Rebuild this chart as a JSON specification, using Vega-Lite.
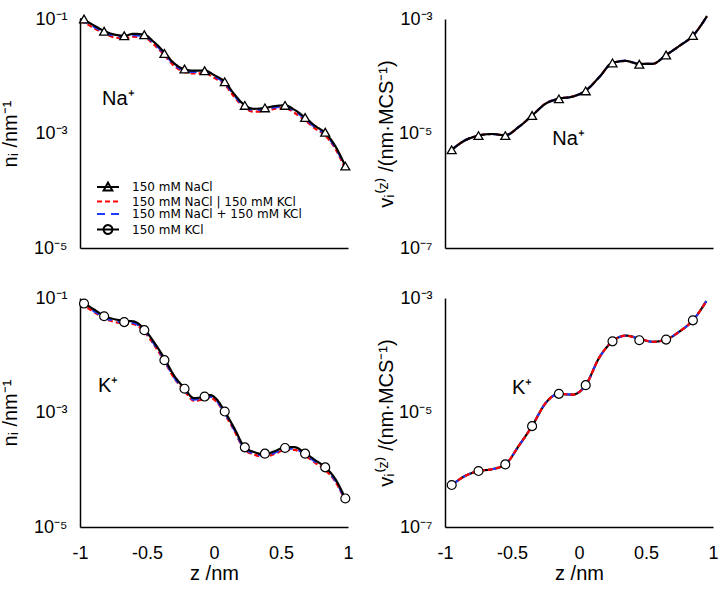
{
  "$schema": "https://vega.github.io/schema/vega-lite/v6.json",
  "padding": {"left": 0, "top": 10, "right": 5, "bottom": 5},
  "background": "white",
  "columns": 2,
  "spacing": {"row": 50, "column": 97},
  "bounds": "flush",
  "resolve": {"scale": {"x": "independent", "y": "independent", "color": "shared", "strokeDash": "shared"}},
  "config": {
    "view": {"stroke": null},
    "axis": {"grid": false, "ticks": false, "domainColor": "black", "domainWidth": 1.5, "labelFont": "Liberation Sans", "labelFontSize": 18, "labelColor": "black", "titleFont": "Liberation Sans", "titleFontSize": 20, "titleFontWeight": "normal", "titleColor": "black", "labelOverlap": false, "labelFlush": false, "labelBound": false}
  },
  "datasets": {
    "xt": [{"z":-1,"m":1},{"z":-0.75,"m":0},{"z":-0.5,"m":1},{"z":-0.25,"m":0},{"z":0,"m":1},{"z":0.25,"m":0},{"z":0.5,"m":1},{"z":0.75,"m":0},{"z":1,"m":1}],
    "ytn": [{"v":0.00001,"m":1},{"v":0.00002,"m":0},{"v":0.00003,"m":0},{"v":0.00004,"m":0},{"v":0.00005,"m":0},{"v":0.00006,"m":0},{"v":0.00007,"m":0},{"v":0.00008,"m":0},{"v":0.00009,"m":0},{"v":0.0001,"m":1},{"v":0.0002,"m":0},{"v":0.0003,"m":0},{"v":0.0004,"m":0},{"v":0.0005,"m":0},{"v":0.0006,"m":0},{"v":0.0007,"m":0},{"v":0.0008,"m":0},{"v":0.0009,"m":0},{"v":0.001,"m":1},{"v":0.002,"m":0},{"v":0.003,"m":0},{"v":0.004,"m":0},{"v":0.005,"m":0},{"v":0.006,"m":0},{"v":0.007,"m":0},{"v":0.008,"m":0},{"v":0.009,"m":0},{"v":0.01,"m":1},{"v":0.02,"m":0},{"v":0.03,"m":0},{"v":0.04,"m":0},{"v":0.05,"m":0},{"v":0.06,"m":0},{"v":0.07,"m":0},{"v":0.08,"m":0},{"v":0.09,"m":0},{"v":0.1,"m":1}],
    "ytv": [{"v":1e-7,"m":1},{"v":2e-7,"m":0},{"v":3e-7,"m":0},{"v":4e-7,"m":0},{"v":5e-7,"m":0},{"v":6e-7,"m":0},{"v":7e-7,"m":0},{"v":8e-7,"m":0},{"v":9e-7,"m":0},{"v":1e-6,"m":1},{"v":2e-6,"m":0},{"v":3e-6,"m":0},{"v":4e-6,"m":0},{"v":5e-6,"m":0},{"v":6e-6,"m":0},{"v":7e-6,"m":0},{"v":8e-6,"m":0},{"v":9e-6,"m":0},{"v":1e-5,"m":1},{"v":2e-5,"m":0},{"v":3e-5,"m":0},{"v":4e-5,"m":0},{"v":5e-5,"m":0},{"v":6e-5,"m":0},{"v":7e-5,"m":0},{"v":8e-5,"m":0},{"v":9e-5,"m":0},{"v":1e-4,"m":1},{"v":2e-4,"m":0},{"v":3e-4,"m":0},{"v":4e-4,"m":0},{"v":5e-4,"m":0},{"v":6e-4,"m":0},{"v":7e-4,"m":0},{"v":8e-4,"m":0},{"v":9e-4,"m":0},{"v":1e-3,"m":1}],
    "lines": [
      {"p":"Na_n","s":"150 mM NaCl","z":-1,"v":0.1},{"p":"Na_n","s":"150 mM NaCl","z":-0.97,"v":0.095},{"p":"Na_n","s":"150 mM NaCl","z":-0.9,"v":0.078},{"p":"Na_n","s":"150 mM NaCl","z":-0.82,"v":0.062},{"p":"Na_n","s":"150 mM NaCl","z":-0.75,"v":0.054},{"p":"Na_n","s":"150 mM NaCl","z":-0.67,"v":0.051},{"p":"Na_n","s":"150 mM NaCl","z":-0.6,"v":0.055},{"p":"Na_n","s":"150 mM NaCl","z":-0.52,"v":0.053},{"p":"Na_n","s":"150 mM NaCl","z":-0.45,"v":0.04},{"p":"Na_n","s":"150 mM NaCl","z":-0.37,"v":0.026},{"p":"Na_n","s":"150 mM NaCl","z":-0.3,"v":0.017},{"p":"Na_n","s":"150 mM NaCl","z":-0.22,"v":0.0132},{"p":"Na_n","s":"150 mM NaCl","z":-0.15,"v":0.0125},{"p":"Na_n","s":"150 mM NaCl","z":-0.07,"v":0.0126},{"p":"Na_n","s":"150 mM NaCl","z":0,"v":0.0105},{"p":"Na_n","s":"150 mM NaCl","z":0.08,"v":0.008},{"p":"Na_n","s":"150 mM NaCl","z":0.15,"v":0.0049},{"p":"Na_n","s":"150 mM NaCl","z":0.23,"v":0.0031},{"p":"Na_n","s":"150 mM NaCl","z":0.3,"v":0.0027},{"p":"Na_n","s":"150 mM NaCl","z":0.38,"v":0.0028},{"p":"Na_n","s":"150 mM NaCl","z":0.45,"v":0.003},{"p":"Na_n","s":"150 mM NaCl","z":0.53,"v":0.0031},{"p":"Na_n","s":"150 mM NaCl","z":0.6,"v":0.0026},{"p":"Na_n","s":"150 mM NaCl","z":0.68,"v":0.0019},{"p":"Na_n","s":"150 mM NaCl","z":0.75,"v":0.00138},{"p":"Na_n","s":"150 mM NaCl","z":0.83,"v":0.00102},{"p":"Na_n","s":"150 mM NaCl","z":0.9,"v":0.00063},{"p":"Na_n","s":"150 mM NaCl","z":0.98,"v":0.00027},
      {"p":"Na_n","s":"150 mM NaCl | 150 mM KCl","z":-1,"v":0.09},{"p":"Na_n","s":"150 mM NaCl | 150 mM KCl","z":-0.97,"v":0.086},{"p":"Na_n","s":"150 mM NaCl | 150 mM KCl","z":-0.9,"v":0.07},{"p":"Na_n","s":"150 mM NaCl | 150 mM KCl","z":-0.82,"v":0.056},{"p":"Na_n","s":"150 mM NaCl | 150 mM KCl","z":-0.75,"v":0.048},{"p":"Na_n","s":"150 mM NaCl | 150 mM KCl","z":-0.67,"v":0.046},{"p":"Na_n","s":"150 mM NaCl | 150 mM KCl","z":-0.6,"v":0.049},{"p":"Na_n","s":"150 mM NaCl | 150 mM KCl","z":-0.52,"v":0.048},{"p":"Na_n","s":"150 mM NaCl | 150 mM KCl","z":-0.45,"v":0.036},{"p":"Na_n","s":"150 mM NaCl | 150 mM KCl","z":-0.37,"v":0.0234},{"p":"Na_n","s":"150 mM NaCl | 150 mM KCl","z":-0.3,"v":0.0153},{"p":"Na_n","s":"150 mM NaCl | 150 mM KCl","z":-0.22,"v":0.0119},{"p":"Na_n","s":"150 mM NaCl | 150 mM KCl","z":-0.15,"v":0.0112},{"p":"Na_n","s":"150 mM NaCl | 150 mM KCl","z":-0.07,"v":0.0113},{"p":"Na_n","s":"150 mM NaCl | 150 mM KCl","z":0,"v":0.0094},{"p":"Na_n","s":"150 mM NaCl | 150 mM KCl","z":0.08,"v":0.0072},{"p":"Na_n","s":"150 mM NaCl | 150 mM KCl","z":0.15,"v":0.0044},{"p":"Na_n","s":"150 mM NaCl | 150 mM KCl","z":0.23,"v":0.0028},{"p":"Na_n","s":"150 mM NaCl | 150 mM KCl","z":0.3,"v":0.0024},{"p":"Na_n","s":"150 mM NaCl | 150 mM KCl","z":0.38,"v":0.0025},{"p":"Na_n","s":"150 mM NaCl | 150 mM KCl","z":0.45,"v":0.0027},{"p":"Na_n","s":"150 mM NaCl | 150 mM KCl","z":0.53,"v":0.0028},{"p":"Na_n","s":"150 mM NaCl | 150 mM KCl","z":0.6,"v":0.0023},{"p":"Na_n","s":"150 mM NaCl | 150 mM KCl","z":0.68,"v":0.0017},{"p":"Na_n","s":"150 mM NaCl | 150 mM KCl","z":0.75,"v":0.00124},{"p":"Na_n","s":"150 mM NaCl | 150 mM KCl","z":0.83,"v":0.00092},{"p":"Na_n","s":"150 mM NaCl | 150 mM KCl","z":0.9,"v":0.00057},{"p":"Na_n","s":"150 mM NaCl | 150 mM KCl","z":0.98,"v":0.00024},
      {"p":"Na_n","s":"150 mM NaCl + 150 mM KCl","z":-1,"v":0.095},{"p":"Na_n","s":"150 mM NaCl + 150 mM KCl","z":-0.97,"v":0.09},{"p":"Na_n","s":"150 mM NaCl + 150 mM KCl","z":-0.9,"v":0.074},{"p":"Na_n","s":"150 mM NaCl + 150 mM KCl","z":-0.82,"v":0.059},{"p":"Na_n","s":"150 mM NaCl + 150 mM KCl","z":-0.75,"v":0.051},{"p":"Na_n","s":"150 mM NaCl + 150 mM KCl","z":-0.67,"v":0.0485},{"p":"Na_n","s":"150 mM NaCl + 150 mM KCl","z":-0.6,"v":0.052},{"p":"Na_n","s":"150 mM NaCl + 150 mM KCl","z":-0.52,"v":0.0505},{"p":"Na_n","s":"150 mM NaCl + 150 mM KCl","z":-0.45,"v":0.038},{"p":"Na_n","s":"150 mM NaCl + 150 mM KCl","z":-0.37,"v":0.0247},{"p":"Na_n","s":"150 mM NaCl + 150 mM KCl","z":-0.3,"v":0.0161},{"p":"Na_n","s":"150 mM NaCl + 150 mM KCl","z":-0.22,"v":0.0125},{"p":"Na_n","s":"150 mM NaCl + 150 mM KCl","z":-0.15,"v":0.0119},{"p":"Na_n","s":"150 mM NaCl + 150 mM KCl","z":-0.07,"v":0.012},{"p":"Na_n","s":"150 mM NaCl + 150 mM KCl","z":0,"v":0.01},{"p":"Na_n","s":"150 mM NaCl + 150 mM KCl","z":0.08,"v":0.0076},{"p":"Na_n","s":"150 mM NaCl + 150 mM KCl","z":0.15,"v":0.0047},{"p":"Na_n","s":"150 mM NaCl + 150 mM KCl","z":0.23,"v":0.0029},{"p":"Na_n","s":"150 mM NaCl + 150 mM KCl","z":0.3,"v":0.00256},{"p":"Na_n","s":"150 mM NaCl + 150 mM KCl","z":0.38,"v":0.00266},{"p":"Na_n","s":"150 mM NaCl + 150 mM KCl","z":0.45,"v":0.00285},{"p":"Na_n","s":"150 mM NaCl + 150 mM KCl","z":0.53,"v":0.00294},{"p":"Na_n","s":"150 mM NaCl + 150 mM KCl","z":0.6,"v":0.00247},{"p":"Na_n","s":"150 mM NaCl + 150 mM KCl","z":0.68,"v":0.0018},{"p":"Na_n","s":"150 mM NaCl + 150 mM KCl","z":0.75,"v":0.00131},{"p":"Na_n","s":"150 mM NaCl + 150 mM KCl","z":0.83,"v":0.00097},{"p":"Na_n","s":"150 mM NaCl + 150 mM KCl","z":0.9,"v":0.0006},{"p":"Na_n","s":"150 mM NaCl + 150 mM KCl","z":0.98,"v":0.000256},

      {"p":"K_n","s":"150 mM KCl","z":-1,"v":0.085},{"p":"K_n","s":"150 mM KCl","z":-0.97,"v":0.08},{"p":"K_n","s":"150 mM KCl","z":-0.9,"v":0.064},{"p":"K_n","s":"150 mM KCl","z":-0.82,"v":0.049},{"p":"K_n","s":"150 mM KCl","z":-0.75,"v":0.043},{"p":"K_n","s":"150 mM KCl","z":-0.67,"v":0.04},{"p":"K_n","s":"150 mM KCl","z":-0.6,"v":0.039},{"p":"K_n","s":"150 mM KCl","z":-0.52,"v":0.0285},{"p":"K_n","s":"150 mM KCl","z":-0.45,"v":0.0172},{"p":"K_n","s":"150 mM KCl","z":-0.37,"v":0.0088},{"p":"K_n","s":"150 mM KCl","z":-0.3,"v":0.0045},{"p":"K_n","s":"150 mM KCl","z":-0.22,"v":0.00265},{"p":"K_n","s":"150 mM KCl","z":-0.15,"v":0.00178},{"p":"K_n","s":"150 mM KCl","z":-0.07,"v":0.0019},{"p":"K_n","s":"150 mM KCl","z":-0.03,"v":0.00202},{"p":"K_n","s":"150 mM KCl","z":0.02,"v":0.0017},{"p":"K_n","s":"150 mM KCl","z":0.08,"v":0.00104},{"p":"K_n","s":"150 mM KCl","z":0.15,"v":0.00054},{"p":"K_n","s":"150 mM KCl","z":0.23,"v":0.000246},{"p":"K_n","s":"150 mM KCl","z":0.3,"v":0.000204},{"p":"K_n","s":"150 mM KCl","z":0.38,"v":0.000185},{"p":"K_n","s":"150 mM KCl","z":0.45,"v":0.00021},{"p":"K_n","s":"150 mM KCl","z":0.53,"v":0.000245},{"p":"K_n","s":"150 mM KCl","z":0.6,"v":0.000248},{"p":"K_n","s":"150 mM KCl","z":0.68,"v":0.000195},{"p":"K_n","s":"150 mM KCl","z":0.75,"v":0.00015},{"p":"K_n","s":"150 mM KCl","z":0.83,"v":0.00011},{"p":"K_n","s":"150 mM KCl","z":0.9,"v":0.000072},{"p":"K_n","s":"150 mM KCl","z":0.98,"v":0.0000315},
      {"p":"K_n","s":"150 mM NaCl | 150 mM KCl","z":-1,"v":0.076},{"p":"K_n","s":"150 mM NaCl | 150 mM KCl","z":-0.97,"v":0.072},{"p":"K_n","s":"150 mM NaCl | 150 mM KCl","z":-0.9,"v":0.058},{"p":"K_n","s":"150 mM NaCl | 150 mM KCl","z":-0.82,"v":0.044},{"p":"K_n","s":"150 mM NaCl | 150 mM KCl","z":-0.75,"v":0.0385},{"p":"K_n","s":"150 mM NaCl | 150 mM KCl","z":-0.67,"v":0.036},{"p":"K_n","s":"150 mM NaCl | 150 mM KCl","z":-0.6,"v":0.035},{"p":"K_n","s":"150 mM NaCl | 150 mM KCl","z":-0.52,"v":0.0257},{"p":"K_n","s":"150 mM NaCl | 150 mM KCl","z":-0.45,"v":0.0155},{"p":"K_n","s":"150 mM NaCl | 150 mM KCl","z":-0.37,"v":0.0079},{"p":"K_n","s":"150 mM NaCl | 150 mM KCl","z":-0.3,"v":0.0041},{"p":"K_n","s":"150 mM NaCl | 150 mM KCl","z":-0.22,"v":0.00239},{"p":"K_n","s":"150 mM NaCl | 150 mM KCl","z":-0.15,"v":0.0016},{"p":"K_n","s":"150 mM NaCl | 150 mM KCl","z":-0.07,"v":0.00171},{"p":"K_n","s":"150 mM NaCl | 150 mM KCl","z":-0.03,"v":0.00182},{"p":"K_n","s":"150 mM NaCl | 150 mM KCl","z":0.02,"v":0.00153},{"p":"K_n","s":"150 mM NaCl | 150 mM KCl","z":0.08,"v":0.00094},{"p":"K_n","s":"150 mM NaCl | 150 mM KCl","z":0.15,"v":0.00049},{"p":"K_n","s":"150 mM NaCl | 150 mM KCl","z":0.23,"v":0.000221},{"p":"K_n","s":"150 mM NaCl | 150 mM KCl","z":0.3,"v":0.000184},{"p":"K_n","s":"150 mM NaCl | 150 mM KCl","z":0.38,"v":0.000167},{"p":"K_n","s":"150 mM NaCl | 150 mM KCl","z":0.45,"v":0.000189},{"p":"K_n","s":"150 mM NaCl | 150 mM KCl","z":0.53,"v":0.00022},{"p":"K_n","s":"150 mM NaCl | 150 mM KCl","z":0.6,"v":0.000223},{"p":"K_n","s":"150 mM NaCl | 150 mM KCl","z":0.68,"v":0.000176},{"p":"K_n","s":"150 mM NaCl | 150 mM KCl","z":0.75,"v":0.000135},{"p":"K_n","s":"150 mM NaCl | 150 mM KCl","z":0.83,"v":0.000099},{"p":"K_n","s":"150 mM NaCl | 150 mM KCl","z":0.9,"v":0.000065},{"p":"K_n","s":"150 mM NaCl | 150 mM KCl","z":0.98,"v":0.0000284},
      {"p":"K_n","s":"150 mM NaCl + 150 mM KCl","z":-1,"v":0.08},{"p":"K_n","s":"150 mM NaCl + 150 mM KCl","z":-0.97,"v":0.075},{"p":"K_n","s":"150 mM NaCl + 150 mM KCl","z":-0.9,"v":0.06},{"p":"K_n","s":"150 mM NaCl + 150 mM KCl","z":-0.82,"v":0.046},{"p":"K_n","s":"150 mM NaCl + 150 mM KCl","z":-0.75,"v":0.04},{"p":"K_n","s":"150 mM NaCl + 150 mM KCl","z":-0.67,"v":0.0376},{"p":"K_n","s":"150 mM NaCl + 150 mM KCl","z":-0.6,"v":0.0367},{"p":"K_n","s":"150 mM NaCl + 150 mM KCl","z":-0.52,"v":0.0268},{"p":"K_n","s":"150 mM NaCl + 150 mM KCl","z":-0.45,"v":0.0162},{"p":"K_n","s":"150 mM NaCl + 150 mM KCl","z":-0.37,"v":0.0083},{"p":"K_n","s":"150 mM NaCl + 150 mM KCl","z":-0.3,"v":0.0042},{"p":"K_n","s":"150 mM NaCl + 150 mM KCl","z":-0.22,"v":0.00249},{"p":"K_n","s":"150 mM NaCl + 150 mM KCl","z":-0.15,"v":0.00167},{"p":"K_n","s":"150 mM NaCl + 150 mM KCl","z":-0.07,"v":0.00179},{"p":"K_n","s":"150 mM NaCl + 150 mM KCl","z":-0.03,"v":0.0019},{"p":"K_n","s":"150 mM NaCl + 150 mM KCl","z":0.02,"v":0.0016},{"p":"K_n","s":"150 mM NaCl + 150 mM KCl","z":0.08,"v":0.00098},{"p":"K_n","s":"150 mM NaCl + 150 mM KCl","z":0.15,"v":0.00051},{"p":"K_n","s":"150 mM NaCl + 150 mM KCl","z":0.23,"v":0.000231},{"p":"K_n","s":"150 mM NaCl + 150 mM KCl","z":0.3,"v":0.000192},{"p":"K_n","s":"150 mM NaCl + 150 mM KCl","z":0.38,"v":0.000174},{"p":"K_n","s":"150 mM NaCl + 150 mM KCl","z":0.45,"v":0.000197},{"p":"K_n","s":"150 mM NaCl + 150 mM KCl","z":0.53,"v":0.00023},{"p":"K_n","s":"150 mM NaCl + 150 mM KCl","z":0.6,"v":0.000233},{"p":"K_n","s":"150 mM NaCl + 150 mM KCl","z":0.68,"v":0.000183},{"p":"K_n","s":"150 mM NaCl + 150 mM KCl","z":0.75,"v":0.000141},{"p":"K_n","s":"150 mM NaCl + 150 mM KCl","z":0.83,"v":0.000103},{"p":"K_n","s":"150 mM NaCl + 150 mM KCl","z":0.9,"v":0.0000677},{"p":"K_n","s":"150 mM NaCl + 150 mM KCl","z":0.98,"v":0.0000296},

      {"p":"Na_v","s":"150 mM NaCl","z":-0.95,"v":5.2e-6},{"p":"Na_v","s":"150 mM NaCl","z":-0.85,"v":7.6e-6},{"p":"Na_v","s":"150 mM NaCl","z":-0.75,"v":9.2e-6},{"p":"Na_v","s":"150 mM NaCl","z":-0.65,"v":9.8e-6},{"p":"Na_v","s":"150 mM NaCl","z":-0.55,"v":9.3e-6},{"p":"Na_v","s":"150 mM NaCl","z":-0.45,"v":1.3e-5},{"p":"Na_v","s":"150 mM NaCl","z":-0.35,"v":2.06e-5},{"p":"Na_v","s":"150 mM NaCl","z":-0.25,"v":3.3e-5},{"p":"Na_v","s":"150 mM NaCl","z":-0.15,"v":4.05e-5},{"p":"Na_v","s":"150 mM NaCl","z":-0.05,"v":4.4e-5},{"p":"Na_v","s":"150 mM NaCl","z":0.05,"v":5.6e-5},{"p":"Na_v","s":"150 mM NaCl","z":0.15,"v":9.6e-5},{"p":"Na_v","s":"150 mM NaCl","z":0.25,"v":1.71e-4},{"p":"Na_v","s":"150 mM NaCl","z":0.35,"v":1.85e-4},{"p":"Na_v","s":"150 mM NaCl","z":0.45,"v":1.64e-4},{"p":"Na_v","s":"150 mM NaCl","z":0.55,"v":1.65e-4},{"p":"Na_v","s":"150 mM NaCl","z":0.65,"v":2.35e-4},{"p":"Na_v","s":"150 mM NaCl","z":0.75,"v":3.4e-4},{"p":"Na_v","s":"150 mM NaCl","z":0.85,"v":5.1e-4},{"p":"Na_v","s":"150 mM NaCl","z":0.955,"v":1.12e-3},
      {"p":"Na_v","s":"150 mM NaCl | 150 mM KCl","z":-0.95,"v":5.2e-6},{"p":"Na_v","s":"150 mM NaCl | 150 mM KCl","z":-0.85,"v":7.6e-6},{"p":"Na_v","s":"150 mM NaCl | 150 mM KCl","z":-0.75,"v":9.2e-6},{"p":"Na_v","s":"150 mM NaCl | 150 mM KCl","z":-0.65,"v":9.8e-6},{"p":"Na_v","s":"150 mM NaCl | 150 mM KCl","z":-0.55,"v":9.3e-6},{"p":"Na_v","s":"150 mM NaCl | 150 mM KCl","z":-0.45,"v":1.3e-5},{"p":"Na_v","s":"150 mM NaCl | 150 mM KCl","z":-0.35,"v":2.06e-5},{"p":"Na_v","s":"150 mM NaCl | 150 mM KCl","z":-0.25,"v":3.35e-5},{"p":"Na_v","s":"150 mM NaCl | 150 mM KCl","z":-0.15,"v":4.1e-5},{"p":"Na_v","s":"150 mM NaCl | 150 mM KCl","z":-0.05,"v":4.4e-5},{"p":"Na_v","s":"150 mM NaCl | 150 mM KCl","z":0.05,"v":5.6e-5},{"p":"Na_v","s":"150 mM NaCl | 150 mM KCl","z":0.15,"v":9.6e-5},{"p":"Na_v","s":"150 mM NaCl | 150 mM KCl","z":0.25,"v":1.71e-4},{"p":"Na_v","s":"150 mM NaCl | 150 mM KCl","z":0.35,"v":1.85e-4},{"p":"Na_v","s":"150 mM NaCl | 150 mM KCl","z":0.45,"v":1.64e-4},{"p":"Na_v","s":"150 mM NaCl | 150 mM KCl","z":0.55,"v":1.65e-4},{"p":"Na_v","s":"150 mM NaCl | 150 mM KCl","z":0.65,"v":2.35e-4},{"p":"Na_v","s":"150 mM NaCl | 150 mM KCl","z":0.75,"v":3.4e-4},{"p":"Na_v","s":"150 mM NaCl | 150 mM KCl","z":0.85,"v":5.1e-4},{"p":"Na_v","s":"150 mM NaCl | 150 mM KCl","z":0.955,"v":1.12e-3},
      {"p":"Na_v","s":"150 mM NaCl + 150 mM KCl","z":-0.95,"v":5.2e-6},{"p":"Na_v","s":"150 mM NaCl + 150 mM KCl","z":-0.85,"v":7.6e-6},{"p":"Na_v","s":"150 mM NaCl + 150 mM KCl","z":-0.75,"v":9.2e-6},{"p":"Na_v","s":"150 mM NaCl + 150 mM KCl","z":-0.65,"v":9.8e-6},{"p":"Na_v","s":"150 mM NaCl + 150 mM KCl","z":-0.55,"v":9.3e-6},{"p":"Na_v","s":"150 mM NaCl + 150 mM KCl","z":-0.45,"v":1.3e-5},{"p":"Na_v","s":"150 mM NaCl + 150 mM KCl","z":-0.35,"v":2.06e-5},{"p":"Na_v","s":"150 mM NaCl + 150 mM KCl","z":-0.25,"v":3.3e-5},{"p":"Na_v","s":"150 mM NaCl + 150 mM KCl","z":-0.15,"v":4.05e-5},{"p":"Na_v","s":"150 mM NaCl + 150 mM KCl","z":-0.05,"v":4.4e-5},{"p":"Na_v","s":"150 mM NaCl + 150 mM KCl","z":0.05,"v":5.6e-5},{"p":"Na_v","s":"150 mM NaCl + 150 mM KCl","z":0.15,"v":9.6e-5},{"p":"Na_v","s":"150 mM NaCl + 150 mM KCl","z":0.25,"v":1.71e-4},{"p":"Na_v","s":"150 mM NaCl + 150 mM KCl","z":0.35,"v":1.87e-4},{"p":"Na_v","s":"150 mM NaCl + 150 mM KCl","z":0.45,"v":1.64e-4},{"p":"Na_v","s":"150 mM NaCl + 150 mM KCl","z":0.55,"v":1.65e-4},{"p":"Na_v","s":"150 mM NaCl + 150 mM KCl","z":0.65,"v":2.35e-4},{"p":"Na_v","s":"150 mM NaCl + 150 mM KCl","z":0.75,"v":3.4e-4},{"p":"Na_v","s":"150 mM NaCl + 150 mM KCl","z":0.85,"v":5.1e-4},{"p":"Na_v","s":"150 mM NaCl + 150 mM KCl","z":0.955,"v":1.12e-3},

      {"p":"K_v","s":"150 mM KCl","z":-0.95,"v":5.4e-7},{"p":"K_v","s":"150 mM KCl","z":-0.85,"v":7.8e-7},{"p":"K_v","s":"150 mM KCl","z":-0.75,"v":9.5e-7},{"p":"K_v","s":"150 mM KCl","z":-0.65,"v":1.02e-6},{"p":"K_v","s":"150 mM KCl","z":-0.55,"v":1.24e-6},{"p":"K_v","s":"150 mM KCl","z":-0.45,"v":2.6e-6},{"p":"K_v","s":"150 mM KCl","z":-0.35,"v":5.8e-6},{"p":"K_v","s":"150 mM KCl","z":-0.25,"v":1.45e-5},{"p":"K_v","s":"150 mM KCl","z":-0.15,"v":2.12e-5},{"p":"K_v","s":"150 mM KCl","z":-0.05,"v":2.05e-5},{"p":"K_v","s":"150 mM KCl","z":0.05,"v":3.0e-5},{"p":"K_v","s":"150 mM KCl","z":0.15,"v":9.0e-5},{"p":"K_v","s":"150 mM KCl","z":0.25,"v":1.75e-4},{"p":"K_v","s":"150 mM KCl","z":0.35,"v":2.2e-4},{"p":"K_v","s":"150 mM KCl","z":0.45,"v":1.95e-4},{"p":"K_v","s":"150 mM KCl","z":0.55,"v":1.72e-4},{"p":"K_v","s":"150 mM KCl","z":0.65,"v":1.88e-4},{"p":"K_v","s":"150 mM KCl","z":0.75,"v":2.6e-4},{"p":"K_v","s":"150 mM KCl","z":0.85,"v":4.07e-4},{"p":"K_v","s":"150 mM KCl","z":0.95,"v":8.8e-4},
      {"p":"K_v","s":"150 mM NaCl | 150 mM KCl","z":-0.95,"v":5.4e-7},{"p":"K_v","s":"150 mM NaCl | 150 mM KCl","z":-0.85,"v":7.8e-7},{"p":"K_v","s":"150 mM NaCl | 150 mM KCl","z":-0.75,"v":9.5e-7},{"p":"K_v","s":"150 mM NaCl | 150 mM KCl","z":-0.65,"v":1.02e-6},{"p":"K_v","s":"150 mM NaCl | 150 mM KCl","z":-0.55,"v":1.24e-6},{"p":"K_v","s":"150 mM NaCl | 150 mM KCl","z":-0.45,"v":2.6e-6},{"p":"K_v","s":"150 mM NaCl | 150 mM KCl","z":-0.35,"v":5.8e-6},{"p":"K_v","s":"150 mM NaCl | 150 mM KCl","z":-0.25,"v":1.45e-5},{"p":"K_v","s":"150 mM NaCl | 150 mM KCl","z":-0.15,"v":2.12e-5},{"p":"K_v","s":"150 mM NaCl | 150 mM KCl","z":-0.05,"v":2.05e-5},{"p":"K_v","s":"150 mM NaCl | 150 mM KCl","z":0.05,"v":3.0e-5},{"p":"K_v","s":"150 mM NaCl | 150 mM KCl","z":0.15,"v":9.0e-5},{"p":"K_v","s":"150 mM NaCl | 150 mM KCl","z":0.25,"v":1.75e-4},{"p":"K_v","s":"150 mM NaCl | 150 mM KCl","z":0.35,"v":2.2e-4},{"p":"K_v","s":"150 mM NaCl | 150 mM KCl","z":0.45,"v":1.95e-4},{"p":"K_v","s":"150 mM NaCl | 150 mM KCl","z":0.55,"v":1.72e-4},{"p":"K_v","s":"150 mM NaCl | 150 mM KCl","z":0.65,"v":1.88e-4},{"p":"K_v","s":"150 mM NaCl | 150 mM KCl","z":0.75,"v":2.6e-4},{"p":"K_v","s":"150 mM NaCl | 150 mM KCl","z":0.85,"v":4.07e-4},{"p":"K_v","s":"150 mM NaCl | 150 mM KCl","z":0.95,"v":8.8e-4},
      {"p":"K_v","s":"150 mM NaCl + 150 mM KCl","z":-0.95,"v":5.4e-7},{"p":"K_v","s":"150 mM NaCl + 150 mM KCl","z":-0.85,"v":7.8e-7},{"p":"K_v","s":"150 mM NaCl + 150 mM KCl","z":-0.75,"v":9.5e-7},{"p":"K_v","s":"150 mM NaCl + 150 mM KCl","z":-0.65,"v":1.02e-6},{"p":"K_v","s":"150 mM NaCl + 150 mM KCl","z":-0.55,"v":1.24e-6},{"p":"K_v","s":"150 mM NaCl + 150 mM KCl","z":-0.45,"v":2.6e-6},{"p":"K_v","s":"150 mM NaCl + 150 mM KCl","z":-0.35,"v":5.8e-6},{"p":"K_v","s":"150 mM NaCl + 150 mM KCl","z":-0.25,"v":1.45e-5},{"p":"K_v","s":"150 mM NaCl + 150 mM KCl","z":-0.15,"v":2.12e-5},{"p":"K_v","s":"150 mM NaCl + 150 mM KCl","z":-0.05,"v":2.05e-5},{"p":"K_v","s":"150 mM NaCl + 150 mM KCl","z":0.05,"v":3.0e-5},{"p":"K_v","s":"150 mM NaCl + 150 mM KCl","z":0.15,"v":9.0e-5},{"p":"K_v","s":"150 mM NaCl + 150 mM KCl","z":0.25,"v":1.75e-4},{"p":"K_v","s":"150 mM NaCl + 150 mM KCl","z":0.35,"v":2.2e-4},{"p":"K_v","s":"150 mM NaCl + 150 mM KCl","z":0.45,"v":1.95e-4},{"p":"K_v","s":"150 mM NaCl + 150 mM KCl","z":0.55,"v":1.72e-4},{"p":"K_v","s":"150 mM NaCl + 150 mM KCl","z":0.65,"v":1.88e-4},{"p":"K_v","s":"150 mM NaCl + 150 mM KCl","z":0.75,"v":2.6e-4},{"p":"K_v","s":"150 mM NaCl + 150 mM KCl","z":0.85,"v":4.07e-4},{"p":"K_v","s":"150 mM NaCl + 150 mM KCl","z":0.95,"v":8.8e-4}
    ],
    "marks": [
      {"p":"Na_n","z":-0.97,"v":0.1},{"p":"Na_n","z":-0.82,"v":0.061},{"p":"Na_n","z":-0.67,"v":0.051},{"p":"Na_n","z":-0.52,"v":0.053},{"p":"Na_n","z":-0.37,"v":0.025},{"p":"Na_n","z":-0.22,"v":0.0134},{"p":"Na_n","z":-0.07,"v":0.0125},{"p":"Na_n","z":0.08,"v":0.008},{"p":"Na_n","z":0.23,"v":0.0031},{"p":"Na_n","z":0.38,"v":0.0028},{"p":"Na_n","z":0.53,"v":0.0031},{"p":"Na_n","z":0.68,"v":0.0019},{"p":"Na_n","z":0.83,"v":0.00105},{"p":"Na_n","z":0.98,"v":0.00027},
      {"p":"K_n","z":-0.97,"v":0.08},{"p":"K_n","z":-0.82,"v":0.048},{"p":"K_n","z":-0.67,"v":0.038},{"p":"K_n","z":-0.52,"v":0.0274},{"p":"K_n","z":-0.37,"v":0.0082},{"p":"K_n","z":-0.22,"v":0.0026},{"p":"K_n","z":-0.07,"v":0.0019},{"p":"K_n","z":0.08,"v":0.00104},{"p":"K_n","z":0.23,"v":0.000246},{"p":"K_n","z":0.38,"v":0.000191},{"p":"K_n","z":0.53,"v":0.00024},{"p":"K_n","z":0.68,"v":0.000191},{"p":"K_n","z":0.83,"v":0.00011},{"p":"K_n","z":0.98,"v":0.0000315},
      {"p":"Na_v","z":-0.95,"v":5.19e-6},{"p":"Na_v","z":-0.75,"v":9.2e-6},{"p":"Na_v","z":-0.55,"v":9.2e-6},{"p":"Na_v","z":-0.35,"v":2.06e-5},{"p":"Na_v","z":-0.15,"v":4.03e-5},{"p":"Na_v","z":0.05,"v":5.55e-5},{"p":"Na_v","z":0.25,"v":1.71e-4},{"p":"Na_v","z":0.45,"v":1.62e-4},{"p":"Na_v","z":0.65,"v":2.35e-4},{"p":"Na_v","z":0.85,"v":5.13e-4},
      {"p":"K_v","z":-0.95,"v":5.41e-7},{"p":"K_v","z":-0.75,"v":9.5e-7},{"p":"K_v","z":-0.55,"v":1.24e-6},{"p":"K_v","z":-0.35,"v":5.78e-6},{"p":"K_v","z":-0.15,"v":2.12e-5},{"p":"K_v","z":0.05,"v":3.0e-5},{"p":"K_v","z":0.25,"v":1.75e-4},{"p":"K_v","z":0.45,"v":1.83e-4},{"p":"K_v","z":0.65,"v":1.88e-4},{"p":"K_v","z":0.85,"v":4.07e-4}
    ],
    "notes": [
      {"p":"Na_n","z":-0.836,"v":0.004,"t":"Na⁺"},
      {"p":"Na_v","z":-0.2,"v":8.0e-6,"t":"Na⁺"},
      {"p":"K_n","z":-0.866,"v":0.00295,"t":"K⁺"},
      {"p":"K_v","z":-0.5,"v":2.68e-5,"t":"K⁺"}
    ]
  },
  "concat": [
    {
      "width": 268, "height": 229,
      "encoding": {
        "x": {"field": "z", "type": "quantitative", "scale": {"domain": [-1, 1], "nice": false, "zero": false},
          "axis": {"values": [-1,-0.75,-0.5,-0.25,0,0.25,0.5,0.75,1], "labels": false, "title": null}},
        "y": {"field": "v", "type": "quantitative", "scale": {"type": "log", "domain": [0.00001, 0.1], "nice": false},
          "axis": {"values": [0.00001,0.001,0.1],
            "labelExpr": "datum.value == 0.1 ? '10⁻¹' : datum.value == 0.001 ? '10⁻³' : '10⁻⁵'",
            "labelPadding": 13, "title": "nᵢ /nm⁻¹", "titlePadding": 13}}
      },
      "layer": [
        {"data": {"name": "xt"}, "mark": {"type": "point", "shape": "M0,0L0,2", "filled": false, "color": "black", "strokeWidth": 1.2, "opacity": 1},
         "encoding": {"y": {"datum": 0.00001}, "size": {"condition": {"test": "datum.m == 1", "value": 100}, "value": 25}}},
        {"data": {"name": "ytn"}, "mark": {"type": "point", "shape": "M0,0L2,0", "filled": false, "color": "black", "strokeWidth": 1.2, "opacity": 1},
         "encoding": {"x": {"datum": -1}, "size": {"condition": {"test": "datum.m == 1", "value": 64}, "value": 16}}},
        {"data": {"name": "lines"}, "transform": [{"filter": "datum.p == 'Na_n' && datum.s == '150 mM NaCl | 150 mM KCl'"}],
         "mark": {"type": "line", "interpolate": "monotone", "strokeWidth": 2.2},
         "encoding": {
           "color": {"field": "s", "type": "nominal", "scale": {"domain": ["150 mM NaCl", "150 mM NaCl | 150 mM KCl", "150 mM NaCl + 150 mM KCl", "150 mM KCl"], "range": ["#000000", "#ff0000", "#1f3cff", "#000000"]},
             "legend": {"orient": "none", "legendX": 22, "legendY": 162, "title": null, "symbolSize": 64, "symbolStrokeWidth": 2, "labelFont": "DejaVu Sans", "labelFontSize": 12, "labelColor": "black", "labelOffset": 18, "rowPadding": 0.5, "padding": 0, "labelLimit": 400,
               "encode": {"symbols": {"update": {"shape": {"signal": "datum.value === '150 mM NaCl' ? 'M-2.75,0L2.75,0M-1.1,0.9L0,-1.1L1.1,0.9Z' : datum.value === '150 mM KCl' ? 'M-2.75,0L2.75,0M1.1,0A1.1,1.1,0,1,1,-1.1,0A1.1,1.1,0,1,1,1.1,0Z' : 'M-2.75,0L2.75,0'"}}}}}},
           "strokeDash": {"field": "s", "type": "nominal", "scale": {"domain": ["150 mM NaCl", "150 mM NaCl | 150 mM KCl", "150 mM NaCl + 150 mM KCl", "150 mM KCl"], "range": [[1,0],[5,3],[8,6],[1,0]]}}
         }},
        {"data": {"name": "lines"}, "transform": [{"filter": "datum.p == 'Na_n' && datum.s == '150 mM NaCl + 150 mM KCl'"}],
         "mark": {"type": "line", "interpolate": "monotone", "strokeWidth": 2.2},
         "encoding": {"color": {"field": "s", "type": "nominal"}, "strokeDash": {"field": "s", "type": "nominal"}}},
        {"data": {"name": "lines"}, "transform": [{"filter": "datum.p == 'Na_n' && datum.s == '150 mM NaCl'"}],
         "mark": {"type": "line", "interpolate": "monotone", "strokeWidth": 2.2},
         "encoding": {"color": {"field": "s", "type": "nominal"}, "strokeDash": {"field": "s", "type": "nominal"}}},
        {"data": {"name": "marks"}, "transform": [{"filter": "datum.p == 'Na_n'"}],
         "mark": {"type": "point", "shape": "triangle-up", "filled": true, "fill": "white", "stroke": "black", "strokeWidth": 1.3, "size": 80, "opacity": 1}},
        {"data": {"name": "notes"}, "transform": [{"filter": "datum.p == 'Na_n'"}],
         "mark": {"type": "text", "align": "left", "baseline": "middle", "font": "Liberation Sans", "fontSize": 20, "color": "black"},
         "encoding": {"text": {"field": "t"}}}
      ]
    },
    {
      "width": 268, "height": 229,
      "encoding": {
        "x": {"field": "z", "type": "quantitative", "scale": {"domain": [-1, 1], "nice": false, "zero": false},
          "axis": {"values": [-1,-0.75,-0.5,-0.25,0,0.25,0.5,0.75,1], "labels": false, "title": null}},
        "y": {"field": "v", "type": "quantitative", "scale": {"type": "log", "domain": [1e-7, 0.001], "nice": false},
          "axis": {"values": [1e-7,1e-5,1e-3],
            "labelExpr": "datum.value == 1e-3 ? '10⁻³' : datum.value == 1e-5 ? '10⁻⁵' : '10⁻⁷'",
            "labelPadding": 13, "title": "vᵢ⁽ᶻ⁾ /(nm·MCS⁻¹)", "titlePadding": 2}}
      },
      "layer": [
        {"data": {"name": "xt"}, "mark": {"type": "point", "shape": "M0,0L0,2", "filled": false, "color": "black", "strokeWidth": 1.2, "opacity": 1},
         "encoding": {"y": {"datum": 1e-7}, "size": {"condition": {"test": "datum.m == 1", "value": 100}, "value": 25}}},
        {"data": {"name": "ytv"}, "mark": {"type": "point", "shape": "M0,0L2,0", "filled": false, "color": "black", "strokeWidth": 1.2, "opacity": 1},
         "encoding": {"x": {"datum": -1}, "size": {"condition": {"test": "datum.m == 1", "value": 64}, "value": 16}}},
        {"data": {"name": "lines"}, "transform": [{"filter": "datum.p == 'Na_v' && datum.s == '150 mM NaCl | 150 mM KCl'"}],
         "mark": {"type": "line", "interpolate": "monotone", "strokeWidth": 2.2},
         "encoding": {"color": {"field": "s", "type": "nominal"}, "strokeDash": {"field": "s", "type": "nominal"}}},
        {"data": {"name": "lines"}, "transform": [{"filter": "datum.p == 'Na_v' && datum.s == '150 mM NaCl + 150 mM KCl'"}],
         "mark": {"type": "line", "interpolate": "monotone", "strokeWidth": 2.2},
         "encoding": {"color": {"field": "s", "type": "nominal"}, "strokeDash": {"field": "s", "type": "nominal"}}},
        {"data": {"name": "lines"}, "transform": [{"filter": "datum.p == 'Na_v' && datum.s == '150 mM NaCl'"}],
         "mark": {"type": "line", "interpolate": "monotone", "strokeWidth": 2.2},
         "encoding": {"color": {"field": "s", "type": "nominal"}, "strokeDash": {"field": "s", "type": "nominal"}}},
        {"data": {"name": "marks"}, "transform": [{"filter": "datum.p == 'Na_v'"}],
         "mark": {"type": "point", "shape": "triangle-up", "filled": true, "fill": "white", "stroke": "black", "strokeWidth": 1.3, "size": 80, "opacity": 1}},
        {"data": {"name": "notes"}, "transform": [{"filter": "datum.p == 'Na_v'"}],
         "mark": {"type": "text", "align": "left", "baseline": "middle", "font": "Liberation Sans", "fontSize": 20, "color": "black"},
         "encoding": {"text": {"field": "t"}}}
      ]
    },
    {
      "width": 268, "height": 229,
      "encoding": {
        "x": {"field": "z", "type": "quantitative", "scale": {"domain": [-1, 1], "nice": false, "zero": false},
          "axis": {"values": [-1,-0.5,0,0.5,1], "title": "z /nm", "titlePadding": 1, "labelPadding": 17,
            "labelExpr": "toString(datum.value)"}},
        "y": {"field": "v", "type": "quantitative", "scale": {"type": "log", "domain": [0.00001, 0.1], "nice": false},
          "axis": {"values": [0.00001,0.001,0.1],
            "labelExpr": "datum.value == 0.1 ? '10⁻¹' : datum.value == 0.001 ? '10⁻³' : '10⁻⁵'",
            "labelPadding": 13, "title": "nᵢ /nm⁻¹", "titlePadding": 13}}
      },
      "layer": [
        {"data": {"name": "xt"}, "mark": {"type": "point", "shape": "M0,0L0,2", "filled": false, "color": "black", "strokeWidth": 1.2, "opacity": 1},
         "encoding": {"y": {"datum": 0.00001}, "size": {"condition": {"test": "datum.m == 1", "value": 100}, "value": 25}}},
        {"data": {"name": "ytn"}, "mark": {"type": "point", "shape": "M0,0L2,0", "filled": false, "color": "black", "strokeWidth": 1.2, "opacity": 1},
         "encoding": {"x": {"datum": -1}, "size": {"condition": {"test": "datum.m == 1", "value": 64}, "value": 16}}},
        {"data": {"name": "lines"}, "transform": [{"filter": "datum.p == 'K_n' && datum.s == '150 mM NaCl | 150 mM KCl'"}],
         "mark": {"type": "line", "interpolate": "monotone", "strokeWidth": 2.2},
         "encoding": {"color": {"field": "s", "type": "nominal"}, "strokeDash": {"field": "s", "type": "nominal"}}},
        {"data": {"name": "lines"}, "transform": [{"filter": "datum.p == 'K_n' && datum.s == '150 mM NaCl + 150 mM KCl'"}],
         "mark": {"type": "line", "interpolate": "monotone", "strokeWidth": 2.2},
         "encoding": {"color": {"field": "s", "type": "nominal"}, "strokeDash": {"field": "s", "type": "nominal"}}},
        {"data": {"name": "lines"}, "transform": [{"filter": "datum.p == 'K_n' && datum.s == '150 mM KCl'"}],
         "mark": {"type": "line", "interpolate": "monotone", "strokeWidth": 2.2},
         "encoding": {"color": {"field": "s", "type": "nominal"}, "strokeDash": {"field": "s", "type": "nominal"}}},
        {"data": {"name": "marks"}, "transform": [{"filter": "datum.p == 'K_n'"}],
         "mark": {"type": "point", "shape": "circle", "filled": true, "fill": "white", "stroke": "black", "strokeWidth": 1.2, "size": 80, "opacity": 1}},
        {"data": {"name": "notes"}, "transform": [{"filter": "datum.p == 'K_n'"}],
         "mark": {"type": "text", "align": "left", "baseline": "middle", "font": "Liberation Sans", "fontSize": 20, "color": "black"},
         "encoding": {"text": {"field": "t"}}}
      ]
    },
    {
      "width": 268, "height": 229,
      "encoding": {
        "x": {"field": "z", "type": "quantitative", "scale": {"domain": [-1, 1], "nice": false, "zero": false},
          "axis": {"values": [-1,-0.5,0,0.5,1], "title": "z /nm", "titlePadding": 1, "labelPadding": 17,
            "labelExpr": "toString(datum.value)"}},
        "y": {"field": "v", "type": "quantitative", "scale": {"type": "log", "domain": [1e-7, 0.001], "nice": false},
          "axis": {"values": [1e-7,1e-5,1e-3],
            "labelExpr": "datum.value == 1e-3 ? '10⁻³' : datum.value == 1e-5 ? '10⁻⁵' : '10⁻⁷'",
            "labelPadding": 13, "title": "vᵢ⁽ᶻ⁾ /(nm·MCS⁻¹)", "titlePadding": 2}}
      },
      "layer": [
        {"data": {"name": "xt"}, "mark": {"type": "point", "shape": "M0,0L0,2", "filled": false, "color": "black", "strokeWidth": 1.2, "opacity": 1},
         "encoding": {"y": {"datum": 1e-7}, "size": {"condition": {"test": "datum.m == 1", "value": 100}, "value": 25}}},
        {"data": {"name": "ytv"}, "mark": {"type": "point", "shape": "M0,0L2,0", "filled": false, "color": "black", "strokeWidth": 1.2, "opacity": 1},
         "encoding": {"x": {"datum": -1}, "size": {"condition": {"test": "datum.m == 1", "value": 64}, "value": 16}}},
        {"data": {"name": "lines"}, "transform": [{"filter": "datum.p == 'K_v' && datum.s == '150 mM KCl'"}],
         "mark": {"type": "line", "interpolate": "monotone", "strokeWidth": 2.2},
         "encoding": {"color": {"field": "s", "type": "nominal"}, "strokeDash": {"field": "s", "type": "nominal"}}},
        {"data": {"name": "lines"}, "transform": [{"filter": "datum.p == 'K_v' && datum.s == '150 mM NaCl + 150 mM KCl'"}],
         "mark": {"type": "line", "interpolate": "monotone", "strokeWidth": 2.2},
         "encoding": {"color": {"field": "s", "type": "nominal"}, "strokeDash": {"field": "s", "type": "nominal"}}},
        {"data": {"name": "lines"}, "transform": [{"filter": "datum.p == 'K_v' && datum.s == '150 mM NaCl | 150 mM KCl'"}],
         "mark": {"type": "line", "interpolate": "monotone", "strokeWidth": 2.2},
         "encoding": {"color": {"field": "s", "type": "nominal"}, "strokeDash": {"field": "s", "type": "nominal"}}},
        {"data": {"name": "marks"}, "transform": [{"filter": "datum.p == 'K_v'"}],
         "mark": {"type": "point", "shape": "circle", "filled": true, "fill": "white", "stroke": "black", "strokeWidth": 1.2, "size": 80, "opacity": 1}},
        {"data": {"name": "notes"}, "transform": [{"filter": "datum.p == 'K_v'"}],
         "mark": {"type": "text", "align": "left", "baseline": "middle", "font": "Liberation Sans", "fontSize": 20, "color": "black"},
         "encoding": {"text": {"field": "t"}}}
      ]
    }
  ]
}
